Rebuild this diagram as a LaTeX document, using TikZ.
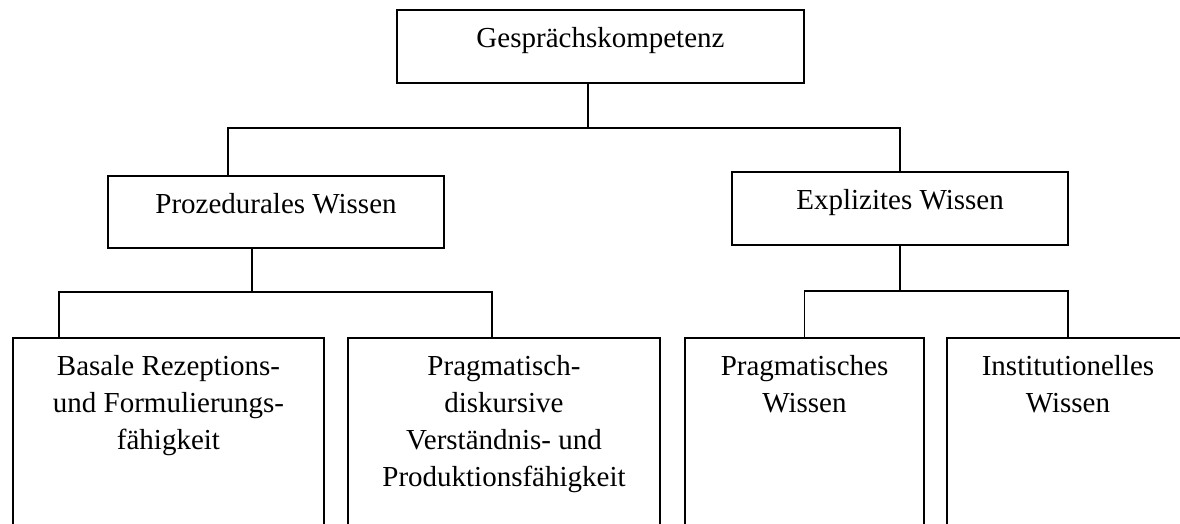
\documentclass[tikz,border=0pt]{standalone}
\usepackage{fontspec}
\setmainfont{Liberation Serif}
\usetikzlibrary{positioning}

\begin{document}
\begin{tikzpicture}[x=1pt, y=-1pt,
    box/.style={draw, line width=1.3pt, inner sep=0pt},
    boxtext/.style={anchor=north, inner sep=0pt, align=center,
      font=\fontsize{29}{37}\selectfont},
    link/.style={line width=1.2pt}]

\clip (0,0) rectangle (1180,524);

% boxes
\node[box, minimum width=407pt, minimum height=73pt] (komp) at (600.5,46.5) {};
\node[box, minimum width=336pt, minimum height=72pt] (proz) at (276,212) {};
\node[box, minimum width=336pt, minimum height=73pt] (expl) at (900,208.5) {};
\node[box, minimum width=311pt, minimum height=230pt] (basal) at (168.5,453) {};
\node[box, minimum width=312pt, minimum height=230pt] (diskurs) at (504,453) {};
\node[box, minimum width=239pt, minimum height=230pt] (pragwiss) at (804.5,453) {};
\node[box, minimum width=242pt, minimum height=230pt] (inst) at (1068,453) {};

% texts
\node[boxtext, below=18pt of komp.north] (kompText) {Gesprächskompetenz};
\node[boxtext, below=18pt of proz.north] (prozText) {Prozedurales Wissen};
\node[boxtext, below=18pt of expl.north] (explText) {Explizites Wissen};
\node[boxtext, below=18pt of basal.north] (basalText)
  {Basale Rezeptions-\\und Formulierungs-\\fähigkeit};
\node[boxtext, below=18pt of diskurs.north] (diskursText)
  {Pragmatisch-\\diskursive\\Verständnis- und\\Produktionsfähigkeit};
\node[boxtext, below=18pt of pragwiss.north] (pragwissText) {Pragmatisches\\Wissen};
\node[boxtext, below=18pt of inst.north] (instText) {Institutionelles\\Wissen};

% connectors
\coordinate (split1) at (588,128);
\coordinate (split2) at (252,292);
\coordinate (split3) at (900,291);

\draw[link] ([xshift=-12.5pt]komp.south) -- (split1);
\draw[link] ([xshift=-48pt]proz.north) |- (split1) -| (expl.north);

\draw[link] ([xshift=-24pt]proz.south) -- (split2);
\draw[link] ([xshift=-109.5pt]basal.north) |- (split2) -| ([xshift=-12pt]diskurs.north);

\draw[link] (expl.south) -- (split3);
\draw[link] (pragwiss.north) |- (split3) -| (inst.north);

\end{tikzpicture}
\end{document}
